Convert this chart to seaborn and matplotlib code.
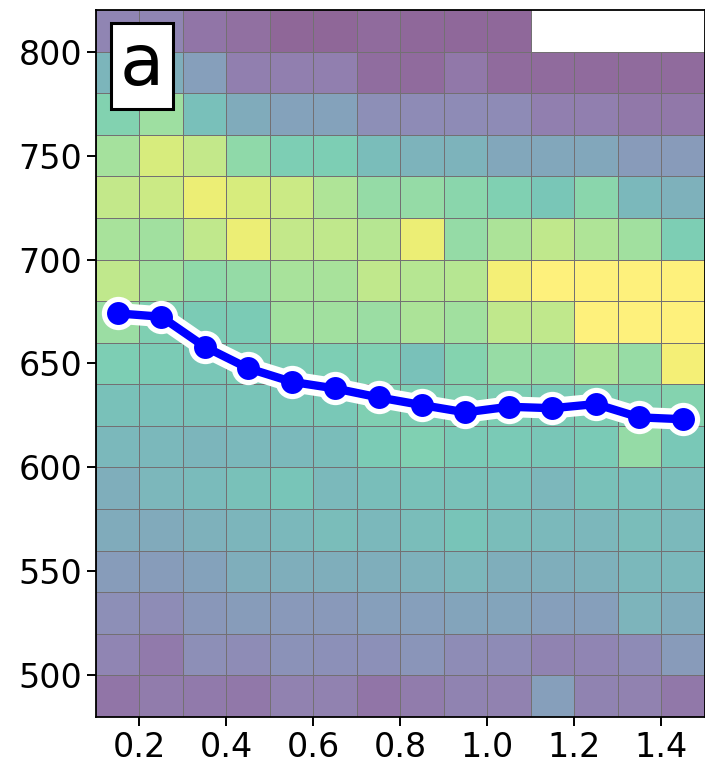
import numpy as np
import matplotlib
matplotlib.use("Agg")
import matplotlib.pyplot as plt
from matplotlib.colors import ListedColormap
import pandas as pd
import seaborn as sns

nan = np.nan

# bin edges of the 2D map
x_bins = [0.1, 0.2, 0.3, 0.4, 0.5, 0.6, 0.7, 0.8, 0.9, 1.0, 1.1, 1.2, 1.3, 1.4, 1.5]
y_bins = [820, 800, 780, 760, 740, 720, 700, 680, 660, 640, 620, 600, 580, 560, 540, 520, 500, 480]

# normalised density per cell, rows from top (800-820) to bottom (480-500)
density = [
    [0.15, 0.15, 0.07, 0.04, 0.00, 0.00, 0.02, 0.01, 0.01, 0.01, nan, nan, nan, nan],
    [0.45, 0.40, 0.30, 0.12, 0.12, 0.12, 0.03, 0.02, 0.08, 0.02, 0.02, 0.02, 0.02, 0.02],
    [0.65, 0.75, 0.52, 0.38, 0.32, 0.32, 0.20, 0.18, 0.18, 0.18, 0.12, 0.12, 0.08, 0.08],
    [0.77, 0.90, 0.85, 0.70, 0.62, 0.62, 0.50, 0.43, 0.43, 0.35, 0.35, 0.35, 0.27, 0.27],
    [0.85, 0.87, 0.95, 0.90, 0.87, 0.80, 0.72, 0.72, 0.68, 0.64, 0.57, 0.68, 0.47, 0.42],
    [0.78, 0.76, 0.84, 0.95, 0.85, 0.84, 0.82, 0.95, 0.72, 0.79, 0.84, 0.80, 0.76, 0.62],
    [0.84, 0.76, 0.70, 0.72, 0.78, 0.78, 0.84, 0.82, 0.82, 0.97, 1.00, 1.00, 1.00, 1.00],
    [0.74, 0.63, 0.60, 0.60, 0.76, 0.76, 0.74, 0.79, 0.76, 0.84, 0.84, 1.00, 1.00, 1.00],
    [0.62, 0.60, 0.57, 0.60, 0.60, 0.62, 0.64, 0.53, 0.66, 0.73, 0.73, 0.79, 0.73, 0.97],
    [0.53, 0.52, 0.53, 0.55, 0.57, 0.58, 0.63, 0.62, 0.64, 0.62, 0.60, 0.62, 0.64, 0.66],
    [0.47, 0.47, 0.45, 0.47, 0.48, 0.50, 0.60, 0.64, 0.59, 0.59, 0.57, 0.59, 0.72, 0.58],
    [0.40, 0.46, 0.49, 0.53, 0.56, 0.48, 0.51, 0.53, 0.53, 0.52, 0.46, 0.53, 0.52, 0.50],
    [0.38, 0.37, 0.42, 0.45, 0.47, 0.50, 0.47, 0.50, 0.55, 0.50, 0.48, 0.46, 0.50, 0.48],
    [0.28, 0.28, 0.32, 0.40, 0.40, 0.40, 0.40, 0.42, 0.46, 0.40, 0.40, 0.42, 0.47, 0.47],
    [0.20, 0.19, 0.25, 0.28, 0.26, 0.26, 0.30, 0.30, 0.33, 0.33, 0.30, 0.30, 0.44, 0.38],
    [0.15, 0.09, 0.20, 0.19, 0.22, 0.21, 0.21, 0.24, 0.19, 0.18, 0.14, 0.15, 0.18, 0.27],
    [0.07, 0.10, 0.09, 0.08, 0.13, 0.13, 0.07, 0.10, 0.14, 0.13, 0.30, 0.14, 0.13, 0.08],
]

# mean curve
x_line = [0.15, 0.25, 0.35, 0.45, 0.55, 0.65, 0.75, 0.85, 0.95, 1.05, 1.15, 1.25, 1.35, 1.45]
y_line = [674.1, 672.5, 658.1, 647.7, 641.2, 638.0, 633.7, 630.0, 626.5, 629.2, 628.5, 630.5, 624.1, 623.2]

x_ticks = [0.2, 0.4, 0.6, 0.8, 1.0, 1.2, 1.4]
y_ticks = [500, 550, 600, 650, 700, 750, 800]
panel_label = "a"

sns.set_style("ticks")
plt.rcParams['font.family'] = ['DejaVu Sans']

W, H = 705, 767
fig = plt.figure(figsize=(W / 100, H / 100), dpi=100)
ax = fig.add_axes([96 / W, 50 / H, 608.5 / W, 707 / H])

# viridis seen through 60 % opacity on white
base = plt.get_cmap('viridis')(np.linspace(0, 1, 256))
faded = base.copy()
faded[:, :3] = base[:, :3] * 0.6 + 0.4
cmap = ListedColormap(faded)
cmap.set_bad((1, 1, 1, 0))

Z = np.ma.masked_invalid(np.array(density, dtype=float))
edge = np.where(Z.mask.ravel()[:, None], [0, 0, 0, 0], [0.45, 0.44, 0.45, 1.0])
ax.pcolormesh(x_bins, y_bins, Z, cmap=cmap, vmin=0, vmax=1,
              edgecolors=edge, linewidth=0.6, zorder=1)

df = pd.DataFrame({'x': x_line, 'y': y_line})
sns.lineplot(data=df, x='x', y='y', ax=ax, color='white', linewidth=15,
             marker='o', markersize=24, markeredgewidth=0, zorder=3)
sns.lineplot(data=df, x='x', y='y', ax=ax, color='blue', linewidth=6,
             marker='o', markersize=16.5, markeredgewidth=0, zorder=4)

ax.set_xlim(0.1, 1.5)
ax.set_ylim(480, 820)
ax.set_xticks(x_ticks)
ax.set_xticklabels([f"{v:.1f}" for v in x_ticks])
ax.set_yticks(y_ticks)
ax.set_xlabel('')
ax.set_ylabel('')
ax.tick_params(labelsize=24, length=6.5, width=1.4, colors='black')
for s in ax.spines.values():
    s.set_linewidth(1.3)
    s.set_color('black')

ax.text((142 - 96) / 608.5, (717 - 66) / 707, panel_label, transform=ax.transAxes,
        ha='center', va='center', fontsize=52, color='black', zorder=6,
        bbox=dict(boxstyle='square,pad=0.12', facecolor='white', edgecolor='black', linewidth=2.2))

fig.savefig('out.png', dpi=100)
